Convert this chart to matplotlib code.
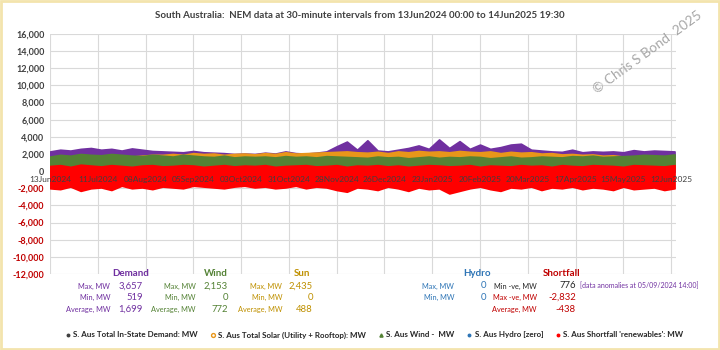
import numpy as np
import pandas as pd
import matplotlib.pyplot as plt
from matplotlib.lines import Line2D
from matplotlib.patches import Rectangle

plt.rcParams['font.family'] = ['Lato', 'DejaVu Sans']

# 6-day envelope readings (MW) from 13Jun2024 to 14Jun2025
dates = pd.date_range('2024-06-13', periods=62, freq='6D')

demand_top = [2300, 2500, 2400, 2600, 2700, 2500, 2600, 2400, 2650, 2500, 2350,
              2300, 2250, 2200, 2350, 2200, 2150, 2100, 2000, 2050, 2000,
              2150, 2050, 2300, 2100, 2050, 2150, 2300, 2900, 3450, 2500,
              3600, 2400, 2300, 2500, 2700, 3000, 2600, 3700, 2700, 3500,
              2600, 3100, 2600, 2800, 3100, 3200, 2500, 2400, 2300, 2250,
              2500, 2200, 2300, 2250, 2300, 2200, 2450, 2300, 2400, 2350, 2300]
solar_top = [1500, 1400, 1300, 1500, 1600, 1500, 1700, 1600, 1700, 1800, 1900,
             1900, 2000, 1900, 2100, 2000, 2050, 1900, 2000, 2050, 1950,
             2100, 2000, 2200, 2050, 2100, 2150, 2200, 2250, 2300, 2200,
             2150, 2250, 2100, 2300, 2200, 2350, 2250, 2300, 2200, 2350,
             2250, 2200, 2300, 2100, 2250, 2150, 2200, 2050, 2100, 1950,
             2000, 1900, 1950, 1800, 1850, 1700, 1650, 1600, 1500, 1600, 1550]
wind_top = [1700, 1900, 1800, 2000, 1900, 1850, 2000, 1900, 1800, 1750, 1900,
            1800, 1700, 1900, 1800, 1700, 1650, 1800, 1600, 1700, 1650,
            1700, 1600, 1750, 1650, 1700, 1600, 1750, 1700, 1650, 1600,
            1550, 1700, 1600, 1650, 1500, 1600, 1700, 1550, 1650, 1600,
            1700, 1650, 1500, 1600, 1700, 1550, 1600, 1700, 1650, 1600,
            1750, 1700, 1800, 1650, 1700, 1750, 1800, 1900, 1850, 1800, 1950]
hydro = [0] * 62
short_top = [600, 700, 500, 750, 650, 550, 700, 600, 500, 650, 700,
             550, 600, 700, 650, 500, 600, 700, 550, 650, 600,
             700, 500, 600, 650, 700, 550, 600, 700, 500, 650,
             600, 700, 550, 650, 500, 600, 700, 650, 550, 600,
             700, 500, 650, 600, 550, 700, 600, 650, 500, 700,
             600, 550, 700, 650, 600, 500, 700, 650, 600, 550, 700]
short_low = [-2000, -2100, -1800, -2300, -2000, -1900, -2200, -1700, -2000, -1900, -2100,
             -1800, -1900, -2000, -1700, -1800, -1900, -2000, -1800, -1700, -1900,
             -1800, -2000, -1900, -1700, -2000, -1800, -1900, -2200, -2400, -1900,
             -2000, -2200, -1800, -2000, -2300, -1900, -2100, -2000, -2600, -2300,
             -2000, -1800, -2100, -2300, -1900, -2000, -1800, -2200, -1900, -2000,
             -1800, -2100, -1900, -2000, -2200, -1800, -2100, -2000, -1900, -2200, -2000]

tick_dates = pd.date_range('2024-06-13', '2025-06-14', freq='28D')
y_ticks = list(range(-12000, 16001, 2000))

stats = {
    'Demand': (['Max, MW', 'Min, MW', 'Average, MW'], ['3,657', '519', '1,699']),
    'Wind': (['Max, MW', 'Min, MW', 'Average, MW'], ['2,153', '0', '772']),
    'Sun': (['Max, MW', 'Min, MW', 'Average, MW'], ['2,435', '0', '488']),
    'Hydro': (['Max, MW', 'Min, MW'], ['0', '0']),
    'Shortfall': (['Min -ve, MW', 'Max -ve, MW', 'Average, MW'], ['776', '-2,832', '-438']),
}

c_dem = '#7030a0'
c_sun = '#e8961a'
c_wind = '#548235'
c_hyd = '#2e75b6'
c_short = '#ff0000'

fig = plt.figure(figsize=(7.2, 3.5), dpi=100)
ax = fig.add_axes([0.0694, 0.217, 0.8694, 0.686])

ax.fill_between(dates, 0, demand_top, color=c_dem, lw=1.2, ec=c_dem, zorder=2)
ax.fill_between(dates, 0, solar_top, color=c_sun, lw=1.2, ec=c_sun, zorder=3)
ax.fill_between(dates, 0, wind_top, color=c_wind, lw=1.2, ec=c_wind, zorder=4)
ax.plot(dates, hydro, color=c_hyd, lw=2, zorder=5)
ax.fill_between(dates, short_low, short_top, color=c_short, lw=1.2, ec=c_short, zorder=6)

ax.set_xlim(pd.Timestamp('2024-06-13 00:00'), pd.Timestamp('2025-06-14 19:30'))
ax.set_ylim(-12000, 16000)
ax.set_xticks(tick_dates)
ax.set_xticklabels([])
ax.set_yticks(y_ticks)
ax.set_yticklabels([f'{v:,}' for v in y_ticks], fontsize=6.5, fontweight='bold')
for lab, v in zip(ax.get_yticklabels(), y_ticks):
    lab.set_color('#c00000' if v < 0 else '#404040')
ax.tick_params(length=0, pad=4)
ax.grid(True, color='#d9d9d9', lw=0.8)
ax.set_axisbelow(True)
for s in ax.spines.values():
    s.set_visible(False)

for d in tick_dates:
    ax.text(d, -1000, d.strftime('%d%b%Y'), ha='center', va='center',
            fontsize=6, color='#404040', zorder=10)

fig.text(0.5, 0.957, 'South Australia:  NEM data at 30-minute intervals from 13Jun2024 00:00 to 14Jun2025 19:30',
         ha='center', va='center', fontsize=7, fontweight='bold', color='#404040')
fig.text(0.9, 0.85, '\u00a9 Chris S Bond  2025', ha='center', va='center', rotation=36,
         fontsize=9.8, color='#a6a6a6')

def px(x, y):
    return x / 720, 1 - y / 350

# stats block
heads = [('Demand', 131, c_dem, 110, 143),
         ('Wind', 216, c_wind, 196, 228),
         ('Sun', 302, '#bf9000', 282, 313),
         ('Hydro', 477, c_hyd, 454, 486),
         ('Shortfall', 562, '#c00000', 537, 576)]
rows_y = [286, 297, 309]
for name, hx, col, lx, vx in heads:
    fig.text(*px(hx, 274), name, ha='center', va='center', fontsize=7,
             fontweight='bold', color=col)
    labels, values = stats[name]
    for k, (lab, val) in enumerate(zip(labels, values)):
        c = col
        if name == 'Shortfall' and k == 0:
            c = '#262626'
        fig.text(*px(lx, rows_y[k]), lab, ha='right', va='center', fontsize=5.3, color=c)
        fig.text(*px(vx, rows_y[k]), val, ha='right', va='center', fontsize=6.8, color=c)
fig.text(*px(580, 286), '[data anomalies at 05/09/2024 14:00]', ha='left', va='center',
         fontsize=5, color=c_dem)

handles = [Line2D([], [], ls='none', marker='o', ms=1.8, color='#404040'),
           Line2D([], [], ls='none', marker='o', ms=2.8, mfc='none', mec=c_sun),
           Line2D([], [], ls='none', marker='^', ms=2.3, color=c_wind),
           Line2D([], [], ls='none', marker='o', ms=1.8, color=c_hyd),
           Line2D([], [], ls='none', marker='o', ms=1.8, color=c_short)]
names = ['S. Aus Total In-State Demand: MW', 'S. Aus Total Solar (Utility + Rooftop): MW',
         'S. Aus Wind -  MW', 'S. Aus Hydro [zero]', "S. Aus Shortfall 'renewables': MW"]
fig.legend(handles, names, loc='center', bbox_to_anchor=(0.52, 0.043), ncol=5, frameon=False,
           prop={'size': 5.8, 'weight': 'bold'}, handlelength=0.6, handletextpad=0.4,
           columnspacing=1.5, labelcolor='#262626')

fig.patches.append(Rectangle((0.002, 0.004), 0.996, 0.992, transform=fig.transFigure,
                             fill=False, ec='#f3e4ad', lw=2))

fig.savefig('out.png', dpi=100)
